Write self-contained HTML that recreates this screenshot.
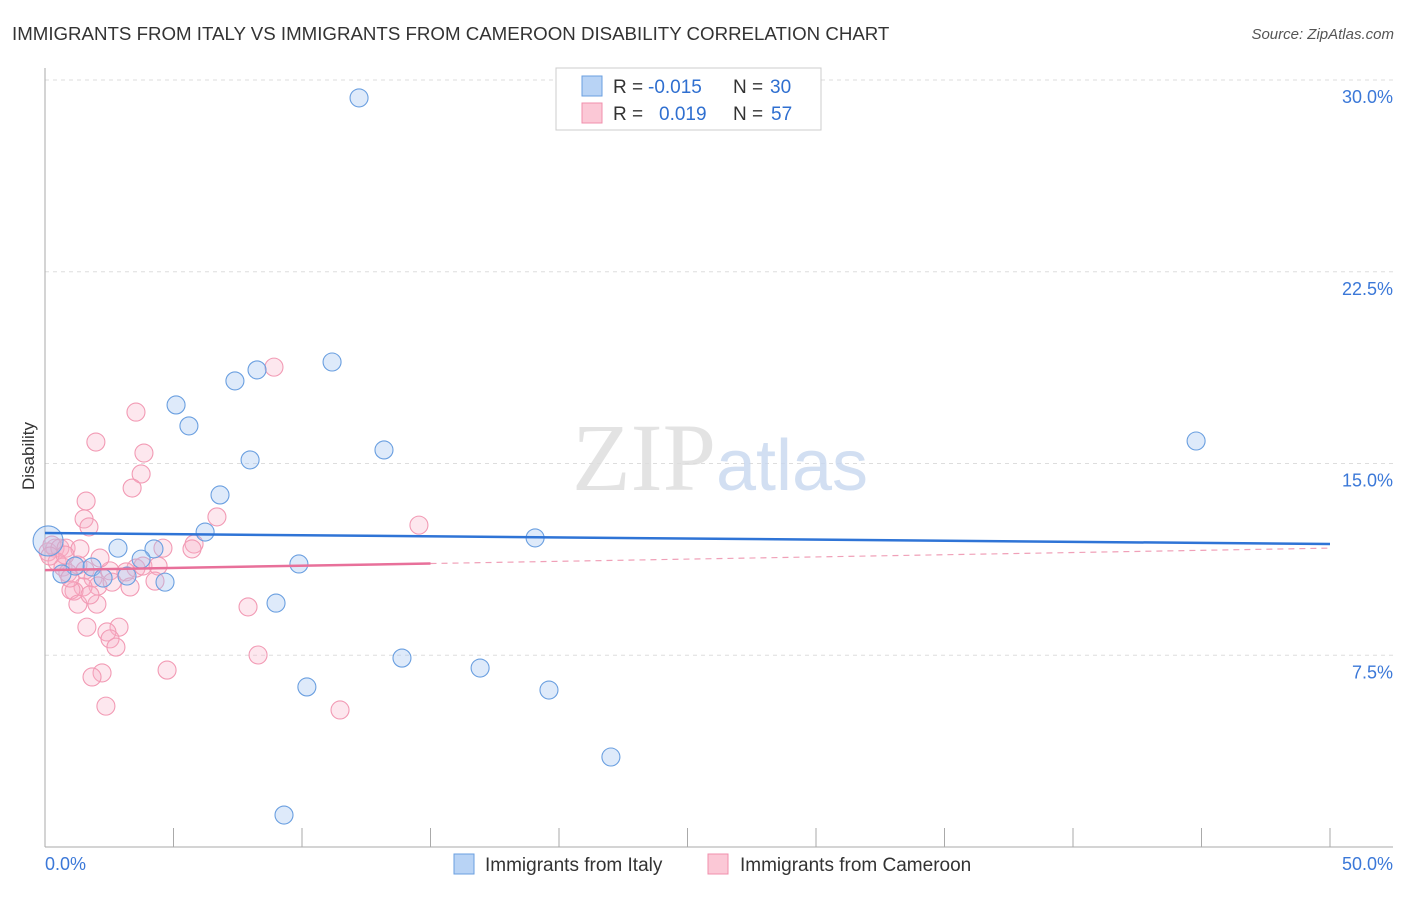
<!DOCTYPE html>
<html><head><meta charset="utf-8"><style>
body{margin:0;background:#fff;width:1406px;height:892px;overflow:hidden;font-family:"Liberation Sans",sans-serif}
</style></head><body>
<svg id="chart" width="1406" height="892" xmlns="http://www.w3.org/2000/svg">
<text x="12" y="40" font-size="18.7" fill="#333" font-family="Liberation Sans">IMMIGRANTS FROM ITALY VS IMMIGRANTS FROM CAMEROON DISABILITY CORRELATION CHART</text>
<text x="1394" y="39" font-size="15" fill="#555" font-style="italic" text-anchor="end">Source: ZipAtlas.com</text>
<text transform="translate(34,456) rotate(-90)" font-size="17" fill="#333" text-anchor="middle">Disability</text>
<g id="grid"></g>
<text x="720" y="490" font-size="96" text-anchor="middle" fill="#ddd" font-family="Liberation Serif" opacity="0.8">ZIP<tspan fill="#c8d8f0" font-family="Liberation Sans" font-size="72">atlas</tspan></text>
<g id="points"></g>
<g id="trends"></g>
<g>
<rect x="556" y="68" width="265" height="62" fill="#fff" stroke="#ccc"/>
<rect x="582" y="76" width="20" height="20" fill="#b8d3f5" stroke="#6a9fe0"/>
<rect x="582" y="103" width="20" height="20" fill="#fbc8d6" stroke="#f08fac"/>
<text x="613" y="93" font-size="19" fill="#333">R =</text>
<text x="648" y="93" font-size="19" fill="#2f6fd0">-0.015</text>
<text x="733" y="93" font-size="19" fill="#333">N =</text>
<text x="770" y="93" font-size="19" fill="#2f6fd0">30</text>
<text x="613" y="120" font-size="19" fill="#333">R =</text>
<text x="659" y="120" font-size="19" fill="#2f6fd0">0.019</text>
<text x="733" y="120" font-size="19" fill="#333">N =</text>
<text x="771" y="120" font-size="19" fill="#2f6fd0">57</text>
</g>
<g>
<rect x="454" y="854" width="20" height="20" fill="#b8d3f5" stroke="#6a9fe0"/>
<text x="485" y="871" font-size="19" fill="#333">Immigrants from Italy</text>
<rect x="708" y="854" width="20" height="20" fill="#fbc8d6" stroke="#f08fac"/>
<text x="740" y="871" font-size="19" fill="#333">Immigrants from Cameroon</text>
</g>
</svg>
<script>
const yTicks=[7.5,15,22.5,30];
const yTickLabels=["7.5%","15.0%","22.5%","30.0%"];
const xTickLabels=["0.0%","50.0%"];
const italyX=[12.22,11.17,8.25,7.39,5.10,5.60,7.98,13.19,6.81,6.23,44.79,19.07,2.84,4.24,3.74,1.83,1.17,0.66,2.26,3.19,4.67,9.88,8.99,13.89,16.93,10.19,19.61,22.02,9.30,0.12];
const italyY=[29.30,18.97,18.66,18.23,17.29,16.47,15.14,15.53,13.77,12.32,15.88,12.09,11.69,11.66,11.26,10.95,10.99,10.68,10.52,10.60,10.36,11.07,9.54,7.39,7.00,6.26,6.14,3.52,1.25,11.97];
const camX=[8.91,3.54,1.98,3.85,3.74,3.39,1.60,1.52,1.71,6.69,14.55,0.39,0.12,0.27,0.58,0.82,1.36,0.47,0.70,0.89,1.28,1.56,2.53,3.54,4.59,3.81,4.40,4.28,5.80,5.72,3.15,1.87,2.06,1.48,3.31,1.13,1.01,1.28,2.02,1.63,2.88,2.41,2.53,2.76,7.90,8.29,4.75,2.22,1.83,2.37,11.48,0.19,0.78,0.97,2.14,2.61,1.75];
const camY=[18.77,17.01,15.84,15.41,14.59,14.04,13.53,12.83,12.52,12.91,12.59,11.69,11.54,11.81,11.69,11.69,11.66,11.15,10.95,10.72,11.03,10.83,10.80,10.91,11.69,10.99,10.99,10.40,11.85,11.66,10.76,10.52,10.21,10.17,10.17,10.01,10.05,9.50,9.50,8.60,8.60,8.41,8.14,7.82,9.39,7.51,6.92,6.81,6.65,5.51,5.36,11.38,11.42,10.52,11.30,10.36,9.86];
const italyTrend=[12.28,11.85];
const camTrend=[10.83,11.69];
const camSolidEnd=15;
const NS="http://www.w3.org/2000/svg";
const X=v=>45+v/50*1285, Y=v=>847-v/30*767;
function mk(t,a,p){const e=document.createElementNS(NS,t);for(const k in a)e.setAttribute(k,a[k]);p.appendChild(e);return e;}
const g=document.getElementById('grid');
yTicks.forEach((t,i)=>{
 const l=mk('line',{x1:45,x2:1393,y1:Y(t),y2:Y(t),stroke:'#ddd','stroke-dasharray':'4,4'},g);
 
 
 const tx=mk('text',{x:1393,y:Y(t)+23,'font-size':18,fill:'#3b78d8','text-anchor':'end'},g);tx.textContent=yTickLabels[i];
 
 
});
const ax=mk('line',{x1:45,x2:45,y1:68,y2:847,stroke:'#aaa'},g);


const bx=mk('line',{x1:45,x2:1393,y1:847,y2:847,stroke:'#aaa'},g);


for(let i=1;i<=10;i++){const tk=mk('line',{x1:X(i*5),x2:X(i*5),y1:828,y2:847,stroke:'#aaa'},g);
 
 }
[[0,'start',45],[1,'end',1393]].forEach(([i,a,x])=>{const t=mk('text',{x:x,y:870,'font-size':18,fill:'#3b78d8','text-anchor':a},g);t.textContent=xTickLabels[i];
 
 });
const p=document.getElementById('points');
camX.forEach((x,i)=>{const c=mk('circle',{cx:X(x),cy:Y(camY[i]),r:9,fill:'rgba(248,175,198,0.3)',stroke:'#f29ab4','stroke-width':1.1},p);
 
 });
italyX.forEach((x,i)=>{const c=mk('circle',{cx:X(x),cy:Y(italyY[i]),r:i==29?15:9,fill:'rgba(160,196,240,0.35)',stroke:'#6a9fe0','stroke-width':1.1},p);
 
 });
const tr=document.getElementById('trends');
const b=mk('line',{x1:X(0),y1:Y(italyTrend[0]),x2:X(50),y2:Y(italyTrend[1]),stroke:'#2f74d6','stroke-width':2.5},tr);


const cy=v=>camTrend[0]+(camTrend[1]-camTrend[0])*v/50;
const d=mk('line',{x1:X(camSolidEnd),y1:Y(cy(camSolidEnd)),x2:X(50),y2:Y(camTrend[1]),stroke:'#f0a0b8','stroke-width':1.2,'stroke-dasharray':'6,5'},tr);


const s=mk('line',{x1:X(0),y1:Y(camTrend[0]),x2:X(camSolidEnd),y2:Y(cy(camSolidEnd)),stroke:'#e8709a','stroke-width':2.5},tr);


</script>
</body></html>
